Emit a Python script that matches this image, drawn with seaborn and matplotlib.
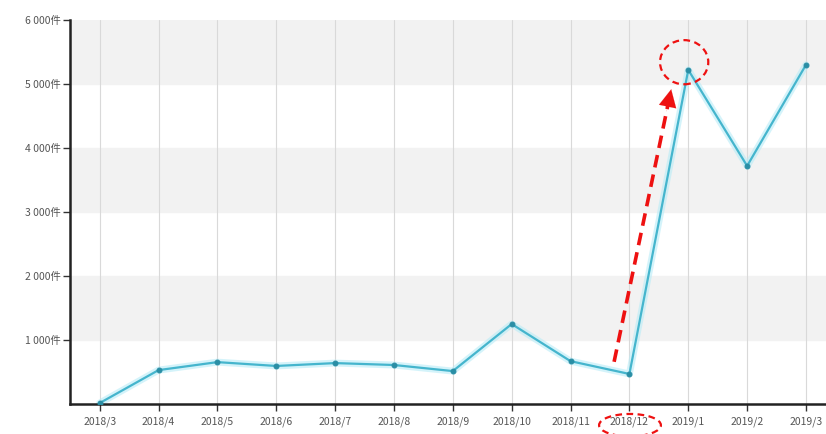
import seaborn as sns
import matplotlib.pyplot as plt
import pandas as pd
from matplotlib.patches import Ellipse

months = ['2018/3', '2018/4', '2018/5', '2018/6', '2018/7', '2018/8', '2018/9',
          '2018/10', '2018/11', '2018/12', '2019/1', '2019/2', '2019/3']
counts = [15, 530, 655, 595, 640, 610, 515, 1250, 670, 470, 5220, 3720, 5300]
y_ticks = [1000, 2000, 3000, 4000, 5000, 6000]
y_labels = ['1 000件', '2 000件', '3 000件', '4 000件', '5 000件', '6 000件']

sns.set_style('white')
plt.rcParams['font.family'] = ['Noto Sans CJK SC', 'DejaVu Sans']

df = pd.DataFrame({'month': months, 'count': counts})

fig = plt.figure(figsize=(8.26, 4.34), dpi=100)
ax = fig.add_axes([0.085, 0.069, 0.915, 0.885])

# alternating bands
for lo in [1000, 3000, 5000]:
    ax.axhspan(lo, lo + 1000, color='#f2f2f2', zorder=0)
for i in range(len(months)):
    ax.axvline(i, color='#d9d9d9', lw=0.8, zorder=1)

# glow + line
sns.lineplot(data=df, x='month', y='count', sort=False, ax=ax,
             color='#b8ecf7', lw=5, alpha=0.6, zorder=2)
sns.lineplot(data=df, x='month', y='count', sort=False, ax=ax,
             color='#45b5cd', lw=1.6, marker='o', markersize=3.5,
             markerfacecolor='#2a8ea5', markeredgecolor='#2a8ea5', zorder=3)

ax.set_xlim(-0.5, 12.34)
ax.set_ylim(0, 6000)
ax.set_yticks(y_ticks)
ax.set_yticklabels(y_labels)
ax.set_xlabel('')
ax.set_ylabel('')
ax.tick_params(axis='both', direction='out', length=5, width=1, color='#333333',
               labelsize=7.5, labelcolor='#555555', pad=2,
               bottom=True, left=True)
ax.tick_params(axis='x', pad=4)
for s in ['top', 'right']:
    ax.spines[s].set_visible(False)
for s in ['left', 'bottom']:
    ax.spines[s].set_color('#222222')
    ax.spines[s].set_linewidth(1.8)

# red annotations: dashed shaft + solid head
red = '#ee1111'
x0, y0, x1, y1 = 8.74, 660, 9.72, 4960
ax.plot([x0, x0 + (x1 - x0) * 0.93], [y0, y0 + (y1 - y0) * 0.93],
        color=red, lw=2.6, ls=(0, (3.5, 2)), zorder=5)
ax.annotate('', xy=(x1, y1), xytext=(x0 + (x1 - x0) * 0.9, y0 + (y1 - y0) * 0.9),
            arrowprops=dict(arrowstyle='-|>,head_length=0.9,head_width=0.45',
                            color=red, lw=0.1, mutation_scale=14), zorder=5)
ax.add_patch(Ellipse((9.93, 5340), 0.82, 690, fill=False, ec=red,
                     lw=1.6, ls=(0, (3, 2)), zorder=5, clip_on=False))
ax.add_patch(Ellipse((9.01, -330), 1.05, 350, fill=False, ec=red,
                     lw=1.6, ls=(0, (3, 2)), zorder=5, clip_on=False))

fig.savefig('out.png', dpi=100)
